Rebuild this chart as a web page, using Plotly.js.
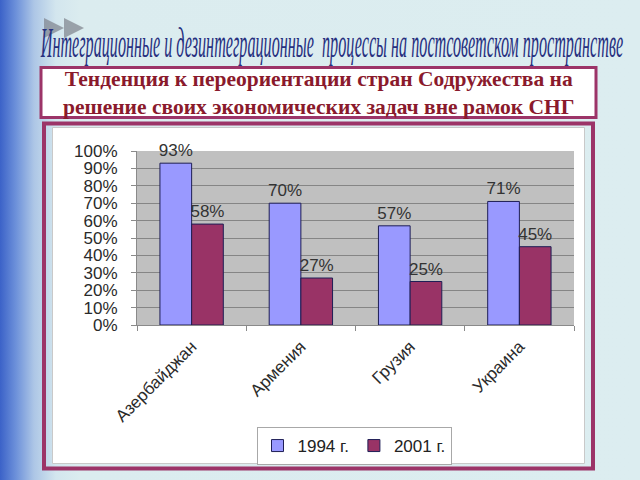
<!DOCTYPE html>
<html>
<head>
<meta charset="utf-8">
<script src="https://cdn.plot.ly/plotly-3.0.1.min.js"></script>
<style>
html,body{margin:0;padding:0;}
body{width:640px;height:480px;overflow:hidden;
background:linear-gradient(to right,#3b62c8 0px,#6d91da 16px,#adc6e6 34px,#d3e6ee 56px,#dbecef 80px,#dcedf0 100%);}
#chart{width:640px;height:480px;}
</style>
</head>
<body>
<div id="chart"></div>
<script>
// ---- data ----
const countries = ['Азербайджан', 'Армения', 'Грузия', 'Украина'];
const values1994 = [93, 70, 57, 71];
const values2001 = [58, 27, 25, 45];
const seriesNames = ['1994 г.', '2001 г.'];
const yTickVals = [0, 10, 20, 30, 40, 50, 60, 70, 80, 90, 100];
const yTickText = ['0%', '10%', '20%', '30%', '40%', '50%', '60%', '70%', '80%', '90%', '100%'];
const titleText = 'Интеграционные и дезинтеграционные  процессы на постсоветском пространстве';
const subtitleText = 'Тенденция к переориентации стран Содружества на<br>решение своих экономических задач вне рамок СНГ';

// ---- helpers (page pixel -> paper fraction) ----
const W = 640, H = 480;
const px = x => x / W;
const py = y => 1 - y / H;

const labelFont = {family: 'Liberation Sans, Arial, sans-serif', size: 17, color: '#2a2a2a'};

const data = [
  {
    type: 'bar', name: seriesNames[0], x: countries, y: values1994,
    text: values1994.map(v => v + '%'), textposition: 'outside', constraintext: 'none',
    textfont: {family: 'Liberation Sans, Arial, sans-serif', size: 17, color: '#333333'}, cliponaxis: false,
    marker: {color: '#9999ff', line: {color: '#1e1e55', width: 1}},
    hoverinfo: 'skip'
  },
  {
    type: 'bar', name: seriesNames[1], x: countries, y: values2001,
    text: values2001.map(v => v + '%'), textposition: 'outside', constraintext: 'none',
    textfont: {family: 'Liberation Sans, Arial, sans-serif', size: 17, color: '#333333'}, cliponaxis: false,
    marker: {color: '#993366', line: {color: '#1e1e55', width: 1}},
    hoverinfo: 'skip'
  }
];

const maroon = '#9c3468';

const tri = (x0, y0, x1, y1) =>
  `M${px(x0)},${py(y0)} L${px(x0)},${py(y1)} L${px(x1)},${py((y0 + y1) / 2)} Z`;

const layout = {
  width: W, height: H,
  margin: {l: 0, r: 0, t: 0, b: 0},
  paper_bgcolor: 'rgba(0,0,0,0)',
  plot_bgcolor: 'rgba(0,0,0,0)',
  font: {family: 'Liberation Sans, Arial, sans-serif', color: '#222'},
  barmode: 'group', bargap: 0.42, bargroupgap: 0,
  showlegend: true,
  legend: {
    orientation: 'h', x: px(354), xanchor: 'center', y: py(446), yanchor: 'middle',
    bgcolor: '#ffffff', bordercolor: '#a8a8a8', borderwidth: 1,
    font: {family: 'Liberation Sans, Arial, sans-serif', size: 17, color: '#222'},
    itemwidth: 30, tracegroupgap: 0
  },
  xaxis: {
    type: 'category', domain: [px(137), px(574)], automargin: false,
    tickangle: -45, tickfont: labelFont, ticklabelstandoff: 4,
    ticks: 'outside', tickson: 'boundaries', ticklen: 5, tickcolor: '#8a8a8a',
    showline: true, linecolor: '#8a8a8a', linewidth: 1, showgrid: false, zeroline: false,
    fixedrange: true
  },
  yaxis: {
    domain: [py(325), py(151)], range: [0, 100], automargin: false,
    tickmode: 'array', tickvals: yTickVals, ticktext: yTickText, tickfont: labelFont,
    ticks: 'outside', ticklen: 5, tickcolor: '#8a8a8a', ticklabelstandoff: 10,
    showgrid: true, gridcolor: '#858585', gridwidth: 1,
    showline: true, linecolor: '#8a8a8a', linewidth: 1, zeroline: false,
    fixedrange: true
  },
  shapes: [
    // decorative arrows
    {type: 'path', xref: 'paper', yref: 'paper', layer: 'below', path: tri(44, 18, 64, 38),
     fillcolor: 'rgba(125,130,140,0.7)', line: {width: 0}},
    {type: 'path', xref: 'paper', yref: 'paper', layer: 'below', path: tri(64, 18, 84, 38),
     fillcolor: 'rgba(125,130,140,0.7)', line: {width: 0}},
    // subtitle box
    {type: 'rect', xref: 'paper', yref: 'paper', layer: 'below',
     x0: px(41), x1: px(596), y0: py(117.5), y1: py(67.5),
     fillcolor: '#ffffff', line: {color: maroon, width: 3}},
    // chart frame
    {type: 'rect', xref: 'paper', yref: 'paper', layer: 'below',
     x0: px(44), x1: px(593), y0: py(468.5), y1: py(123.5),
     fillcolor: 'rgba(0,0,0,0)', line: {color: maroon, width: 4}},
    // inner chart area
    {type: 'rect', xref: 'paper', yref: 'paper', layer: 'below',
     x0: px(52.5), x1: px(584.5), y0: py(463.5), y1: py(127.5),
     fillcolor: '#ffffff', line: {color: '#c9c9c9', width: 1}},
    // plot background
    {type: 'rect', xref: 'x domain', yref: 'y domain', layer: 'below',
     x0: 0, x1: 1, y0: 0, y1: 1, fillcolor: '#c0c0c0', line: {width: 0}}
  ],
  annotations: [
    {text: titleText, xref: 'paper', yref: 'paper', x: px(331), y: py(43),
     xanchor: 'center', yanchor: 'middle', showarrow: false,
     font: {family: '"Liberation Serif", serif', size: 42, color: '#27307f', style: 'italic'}},
    {text: subtitleText, xref: 'paper', yref: 'paper', x: px(319), y: py(93),
     xanchor: 'center', yanchor: 'middle', showarrow: false, align: 'center',
     font: {family: 'Liberation Serif, Times New Roman, serif', size: 21.5, color: '#8a1a2c', weight: 'bold'}}
  ]
};

Plotly.newPlot('chart', data, layout, {staticPlot: true, displayModeBar: false}).then(gd => {
  // condense the slide heading horizontally, like the narrow original typeface
  const t = gd.querySelector('.annotation[data-index="0"] text');
  if (t) {
    const bb = t.getBBox();
    const cx = bb.x + bb.width / 2;
    const s = 583 / bb.width;
    t.setAttribute('transform', `translate(${cx} 0) scale(${s} 1) translate(${-cx} 0)`);
  }
});
</script>
</body>
</html>
